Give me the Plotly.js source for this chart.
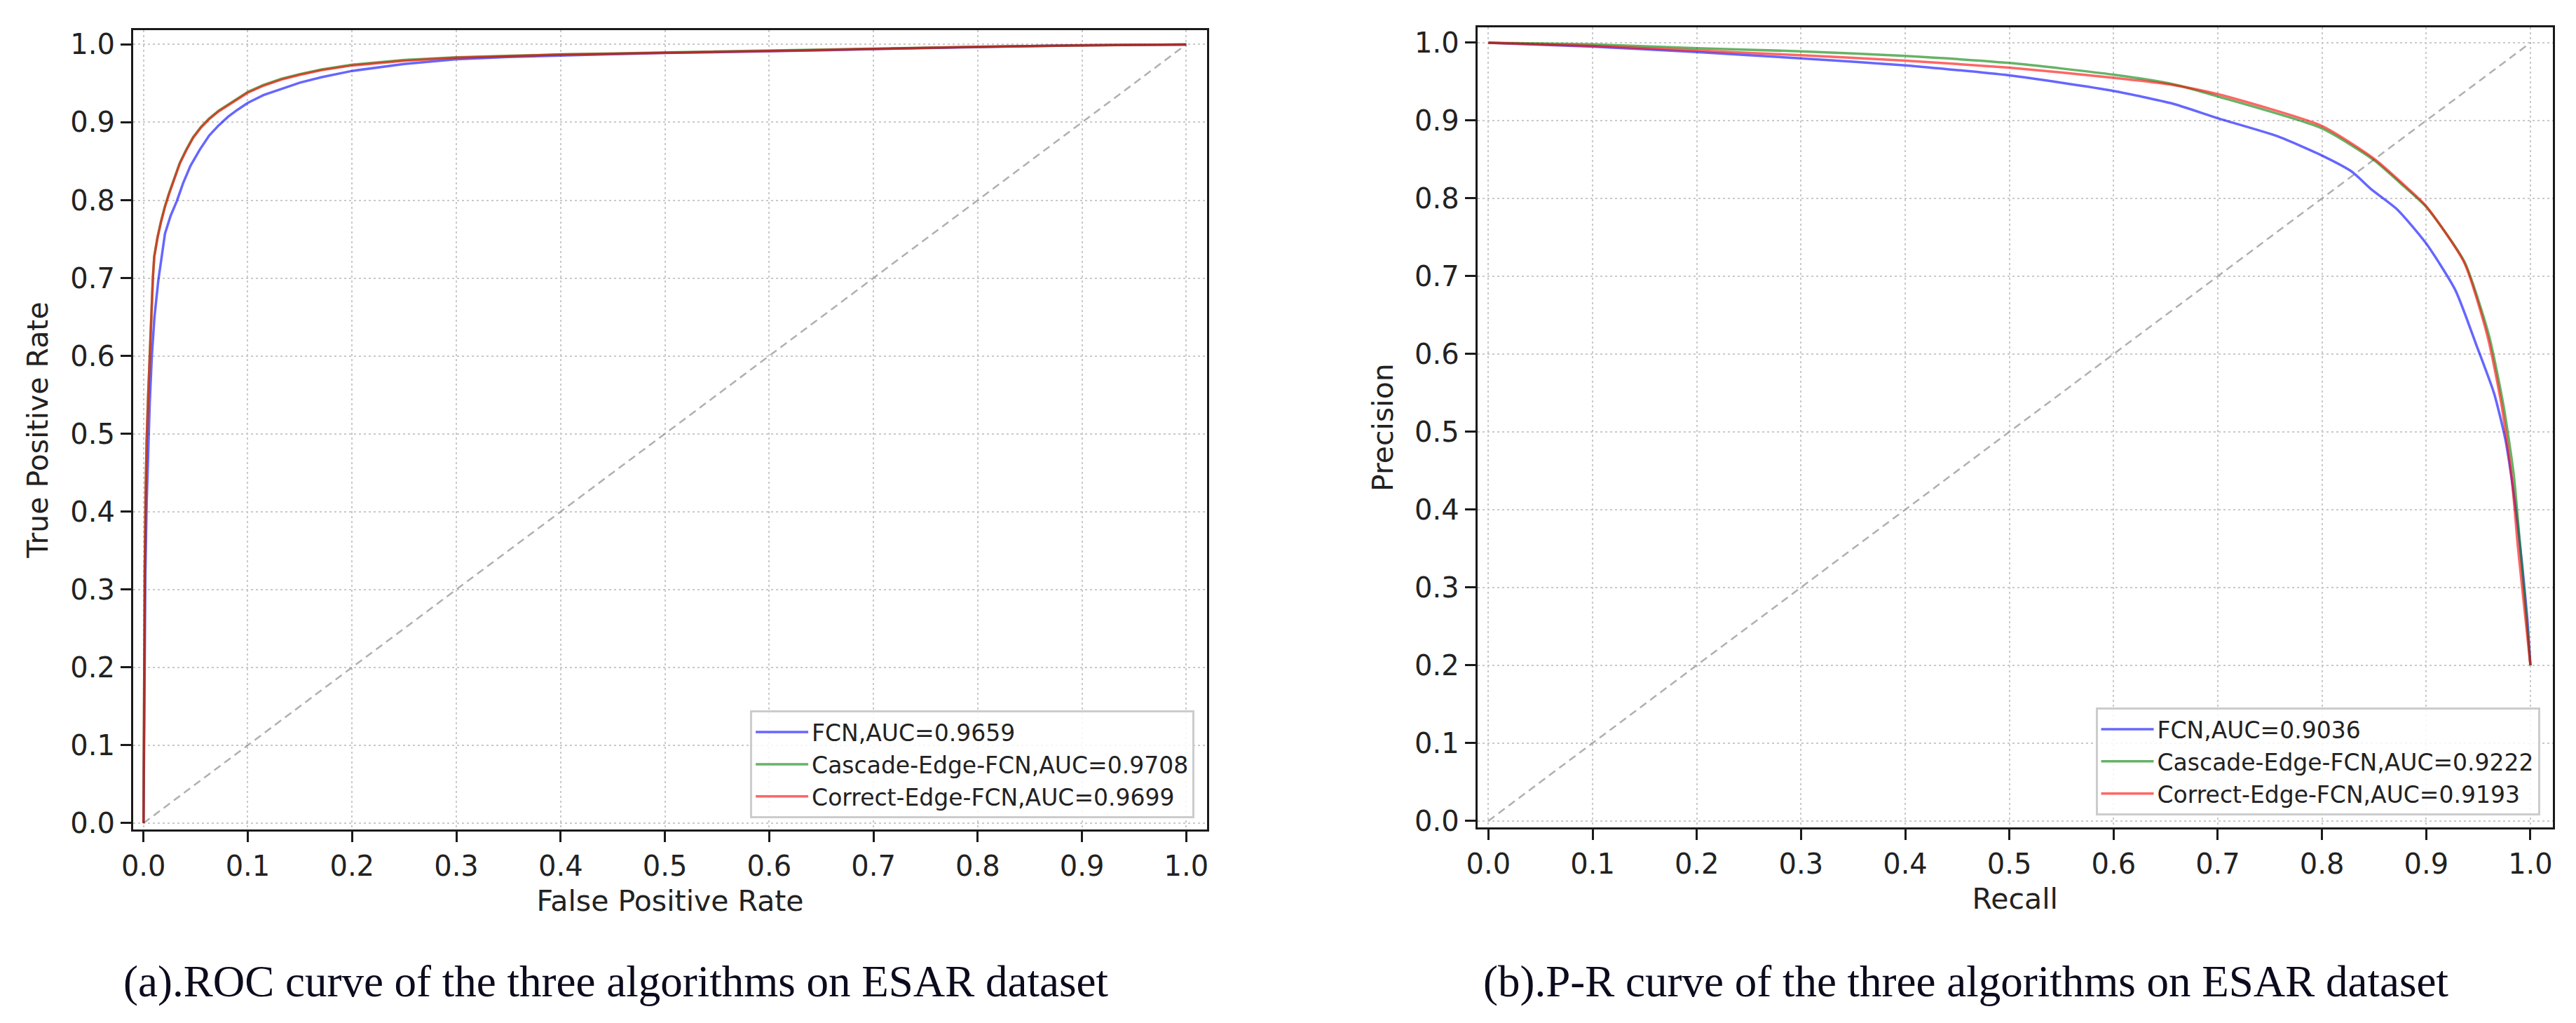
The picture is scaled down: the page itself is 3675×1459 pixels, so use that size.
<!DOCTYPE html>
<html>
<head>
<meta charset="utf-8">
<script src="https://cdn.plot.ly/plotly-3.0.1.min.js"></script>
<style>
html,body{margin:0;padding:0;background:#fff;}
#chart{width:3675px;height:1459px;}
</style>
</head>
<body>
<div id="chart"></div>
<script>
// ---------- data ----------
const seriesNames = ["FCN", "Cascade-Edge-FCN", "Correct-Edge-FCN"];
const rocAUC = ["0.9659", "0.9708", "0.9699"];
const prAUC = ["0.9036", "0.9222", "0.9193"];
const tickVals = [0, 0.1, 0.2, 0.3, 0.4, 0.5, 0.6, 0.7, 0.8, 0.9, 1.0];
const tickText = ["0.0", "0.1", "0.2", "0.3", "0.4", "0.5", "0.6", "0.7", "0.8", "0.9", "1.0"];
const diagX = [0, 1];
const diagY = [0, 1];

// ROC: FCN
const rocFprFCN = [0, 0.0008, 0.0018, 0.003, 0.0045, 0.006, 0.008, 0.0105, 0.0142, 0.0175, 0.0206, 0.026, 0.032, 0.038, 0.045, 0.054, 0.063, 0.072, 0.081, 0.09, 0.1, 0.115, 0.1325, 0.15, 0.171, 0.2, 0.25, 0.3, 0.35, 0.4, 0.45, 0.5, 0.55, 0.6, 0.65, 0.7, 0.75, 0.8, 0.85, 0.9, 0.95, 1.0];
const rocTprFCN = [0, 0.2, 0.32, 0.41, 0.48, 0.54, 0.6, 0.65, 0.697, 0.730, 0.757, 0.780, 0.799, 0.822, 0.844, 0.865, 0.883, 0.896, 0.907, 0.916, 0.925, 0.935, 0.943, 0.951, 0.958, 0.966, 0.975, 0.981, 0.984, 0.986, 0.9875, 0.989, 0.990, 0.991, 0.9925, 0.994, 0.9955, 0.997, 0.998, 0.999, 0.9995, 1.0];
// ROC: Cascade-Edge-FCN
const rocFprCascade = [0, 0.0005, 0.0012, 0.002, 0.003, 0.0045, 0.006, 0.0075, 0.009, 0.0103, 0.0135, 0.0168, 0.0205, 0.0245, 0.0295, 0.0348, 0.041, 0.0476, 0.055, 0.063, 0.072, 0.081, 0.09, 0.1, 0.115, 0.1325, 0.15, 0.171, 0.2, 0.25, 0.3, 0.35, 0.4, 0.45, 0.5, 0.55, 0.6, 0.65, 0.7, 0.75, 0.8, 0.85, 0.9, 0.95, 1.0];
const rocTprCascade = [0, 0.2, 0.33, 0.42, 0.49, 0.55, 0.6, 0.656, 0.701, 0.728, 0.753, 0.773, 0.792, 0.809, 0.829, 0.848, 0.865, 0.881, 0.894, 0.905, 0.915, 0.923, 0.931, 0.939, 0.948, 0.956, 0.962, 0.968, 0.974, 0.980, 0.9835, 0.9855, 0.9872, 0.9885, 0.9898, 0.9908, 0.9918, 0.9932, 0.9946, 0.996, 0.997, 0.998, 0.999, 0.9995, 1.0];
// ROC: Correct-Edge-FCN
const rocFprCorrect = [0, 0.0005, 0.0012, 0.002, 0.003, 0.0045, 0.006, 0.0075, 0.009, 0.0103, 0.0135, 0.0168, 0.0205, 0.0245, 0.0295, 0.0348, 0.041, 0.0476, 0.055, 0.063, 0.072, 0.081, 0.09, 0.1, 0.115, 0.1325, 0.15, 0.171, 0.2, 0.25, 0.3, 0.35, 0.4, 0.45, 0.5, 0.55, 0.6, 0.65, 0.7, 0.75, 0.8, 0.85, 0.9, 0.95, 1.0];
const rocTprCorrect = [0, 0.2, 0.33, 0.42, 0.49, 0.55, 0.6, 0.655, 0.700, 0.727, 0.752, 0.772, 0.791, 0.808, 0.828, 0.847, 0.864, 0.880, 0.893, 0.904, 0.914, 0.922, 0.930, 0.938, 0.947, 0.955, 0.961, 0.967, 0.973, 0.979, 0.983, 0.985, 0.987, 0.988, 0.9895, 0.9905, 0.9915, 0.993, 0.9945, 0.996, 0.997, 0.998, 0.999, 0.9995, 1.0];

// P-R: FCN
const prRecallFCN = [0, 0.1, 0.2, 0.3, 0.4, 0.5, 0.6, 0.656, 0.7, 0.757, 0.8, 0.829, 0.847, 0.872, 0.9, 0.928, 0.948, 0.965, 0.976, 0.985, 0.992, 0.997, 1.0];
const prPrecFCN = [1.0, 0.995, 0.988, 0.980, 0.971, 0.958, 0.938, 0.922, 0.903, 0.880, 0.855, 0.834, 0.812, 0.786, 0.742, 0.682, 0.612, 0.550, 0.490, 0.41, 0.33, 0.26, 0.2];
// P-R: Cascade-Edge-FCN
const prRecallCascade = [0, 0.1, 0.2, 0.3, 0.4, 0.5, 0.6, 0.656, 0.7, 0.8, 0.85, 0.879, 0.9, 0.9365, 0.96, 0.974, 0.984, 0.990, 0.996, 1.0];
const prPrecCascade = [1.0, 0.998, 0.993, 0.989, 0.983, 0.974, 0.959, 0.947, 0.931, 0.890, 0.849, 0.815, 0.789, 0.719, 0.625, 0.535, 0.445, 0.355, 0.265, 0.2];
// P-R: Correct-Edge-FCN
const prRecallCorrect = [0, 0.1, 0.2, 0.3, 0.4, 0.5, 0.6, 0.656, 0.7, 0.8, 0.85, 0.879, 0.9, 0.9365, 0.959, 0.9726, 0.982, 0.988, 0.995, 1.0];
const prPrecCorrect = [1.0, 0.996, 0.990, 0.984, 0.977, 0.968, 0.955, 0.946, 0.934, 0.893, 0.851, 0.817, 0.790, 0.7175, 0.622, 0.532, 0.442, 0.352, 0.263, 0.2];

const captionA = "(a).ROC curve of the three algorithms on ESAR dataset";
const captionB = "(b).P-R curve of the three algorithms on ESAR dataset";

// ---------- styles ----------
const colors = ["rgba(0,0,255,0.6)", "rgba(0,128,0,0.6)", "rgba(255,0,0,0.6)"];
const LW = 3.5;
const dejavu = "DejaVu Sans, Arial, sans-serif";

function line(x, y, i, xa, ya, lg, auc, shape) {
  const ln = {color: colors[i], width: LW, shape: shape};
  if (shape === "spline") ln.smoothing = 0.6;
  return {
    x: x, y: y, xaxis: xa, yaxis: ya, type: "scatter", mode: "lines",
    name: seriesNames[i] + ",AUC=" + auc,
    line: ln, legend: lg, hoverinfo: "skip"
  };
}
function diag(xa, ya) {
  return {x: diagX, y: diagY, xaxis: xa, yaxis: ya, type: "scatter", mode: "lines",
    line: {color: "rgba(150,150,150,0.75)", width: 2.5, dash: "11px,7px"},
    showlegend: false, hoverinfo: "skip"};
}

const traces = [
  diag("x", "y"),
  line(rocFprFCN, rocTprFCN, 0, "x", "y", "legend", rocAUC[0], "linear"),
  line(rocFprCascade, rocTprCascade, 1, "x", "y", "legend", rocAUC[1], "linear"),
  line(rocFprCorrect, rocTprCorrect, 2, "x", "y", "legend", rocAUC[2], "linear"),
  diag("x2", "y2"),
  line(prRecallFCN, prPrecFCN, 0, "x2", "y2", "legend2", prAUC[0], "spline"),
  line(prRecallCascade, prPrecCascade, 1, "x2", "y2", "legend2", prAUC[1], "spline"),
  line(prRecallCorrect, prPrecCorrect, 2, "x2", "y2", "legend2", prAUC[2], "spline")
];

function axisBase(extra) {
  return Object.assign({
    tickmode: "array", tickvals: tickVals, ticktext: tickText,
    ticks: "outside", ticklen: 15, tickwidth: 3, tickcolor: "#1a1a1a",
    tickfont: {family: dejavu, size: 40, color: "#222"},
    showline: true, mirror: true, linewidth: 3, linecolor: "#1a1a1a",
    showgrid: true, gridcolor: "#c9c9c9", gridwidth: 2, griddash: "3px,4px",
    zeroline: false, automargin: false, fixedrange: true
  }, extra);
}

const legendStyle = {
  font: {family: dejavu, size: 33, color: "#222"},
  bgcolor: "rgba(255,255,255,0.85)", bordercolor: "#cccccc", borderwidth: 3,
  xanchor: "right", yanchor: "bottom", itemwidth: 75, tracegroupgap: 0
};

const layout = {
  width: 3675, height: 1459,
  paper_bgcolor: "#ffffff", plot_bgcolor: "#ffffff",
  margin: {l: 0, r: 0, t: 0, b: 0},
  showlegend: true,
  xaxis: axisBase({domain: [0.0517, 0.4686], range: [-0.0099, 1.02], anchor: "y",
    title: {text: "False Positive Rate", font: {family: dejavu, size: 41, color: "#222"}, standoff: 14}}),
  yaxis: axisBase({domain: [0.1890, 0.9707], range: [-0.0084, 1.0186], anchor: "x",
    title: {text: "True Positive Rate", font: {family: dejavu, size: 41, color: "#222"}, standoff: 20}}),
  xaxis2: axisBase({domain: [0.5735, 0.9910], range: [-0.0106, 1.0215], anchor: "y2",
    title: {text: "Recall", font: {family: dejavu, size: 41, color: "#222"}, standoff: 14}}),
  yaxis2: axisBase({domain: [0.1912, 0.9731], range: [-0.0084, 1.0196], anchor: "x2",
    title: {text: "Precision", font: {family: dejavu, size: 41, color: "#222"}, standoff: 18}}),
  legend: Object.assign({}, legendStyle, {x: 0.4637, y: 0.2001}),
  legend2: Object.assign({}, legendStyle, {x: 0.986, y: 0.2029}),
  annotations: [
    {text: captionA, xref: "paper", yref: "paper", x: 0.239, y: 0.0404, xanchor: "center", yanchor: "middle",
     showarrow: false, font: {family: "Liberation Serif, Times New Roman, serif", size: 63, color: "#0b0b1e"}},
    {text: captionB, xref: "paper", yref: "paper", x: 0.7630, y: 0.0404, xanchor: "center", yanchor: "middle",
     showarrow: false, font: {family: "Liberation Serif, Times New Roman, serif", size: 63, color: "#0b0b1e"}}
  ]
};

Plotly.newPlot("chart", traces, layout, {staticPlot: true, displayModeBar: false});
</script>
</body>
</html>
